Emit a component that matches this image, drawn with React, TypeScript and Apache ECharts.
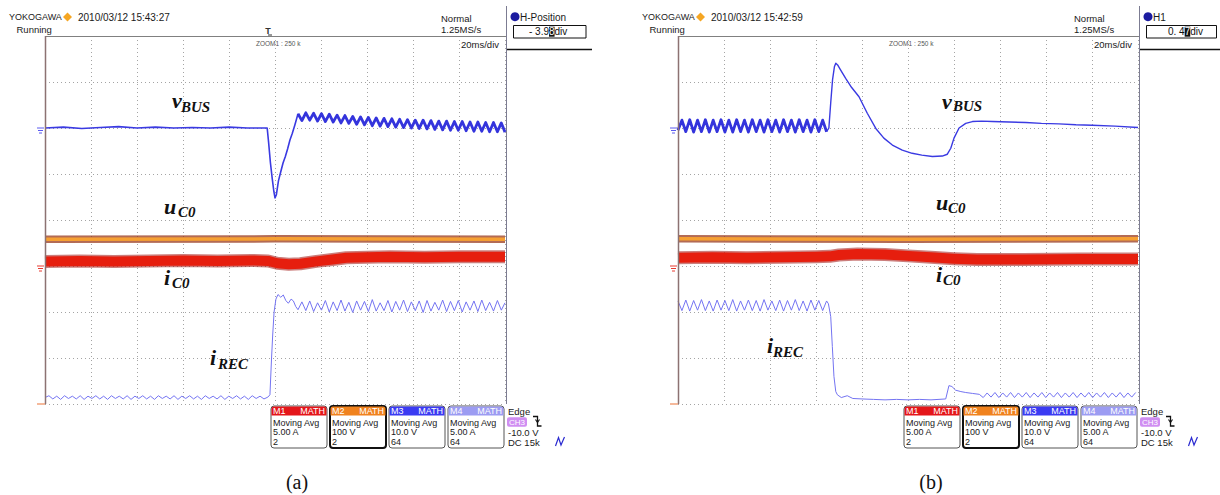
import React, { useEffect, useRef } from "react";
import * as echarts from "echarts";

// ---------- DATA (x: time in ms, 20 ms/div; y: screen divisions) ----------
const timeTicks = [0, 20, 40, 60, 80, 100, 120, 140, 160, 180, 200];
const divTicks = [-4, -3, -2, -1, 0, 1, 2, 3, 4];

// shared sample instants of the ~300 Hz ripple
const rippleTimes = [0, 1.7, 3.4, 5.1, 6.8, 8.5, 10.2, 11.9, 13.6, 15.3, 17.0, 18.7, 20.4, 22.1, 23.8, 25.5, 27.2, 28.9, 30.6, 32.3, 34.0, 35.7, 37.4, 39.1, 40.8, 42.5, 44.2, 45.9, 47.6, 49.3, 51.0, 52.7, 54.4, 56.1, 57.8, 59.5, 61.2, 62.9, 64.6, 66.3, 68.0, 69.7, 71.4, 73.1, 74.8, 76.5, 78.2, 79.9, 81.6, 83.3, 85.0, 86.7, 88.4, 90.1, 91.8, 93.5, 95.2];
const postTimesA = [110.0, 111.7, 113.4, 115.1, 116.8, 118.5, 120.2, 121.9, 123.6, 125.3, 127.0, 128.7, 130.4, 132.1, 133.8, 135.5, 137.2, 138.9, 140.6, 142.3, 144.0, 145.7, 147.4, 149.1, 150.8, 152.5, 154.2, 155.9, 157.6, 159.3, 161.0, 162.7, 164.4, 166.1, 167.8, 169.5, 171.2, 172.9, 174.6, 176.3, 178.0, 179.7, 181.4, 183.1, 184.8, 186.5, 188.2, 189.9, 191.6, 193.3, 195.0, 196.7, 198.4, 200.0];
const postTimesB = [131.0, 132.7, 134.4, 136.1, 137.8, 139.5, 141.2, 142.9, 144.6, 146.3, 148.0, 149.7, 151.4, 153.1, 154.8, 156.5, 158.2, 159.9, 161.6, 163.3, 165.0, 166.7, 168.4, 170.1, 171.8, 173.5, 175.2, 176.9, 178.6, 180.3, 182.0, 183.7, 185.4, 187.1, 188.8, 190.5, 192.2, 193.9, 195.6, 197.3, 199.0];

// ----- panel (a) -----
const vbusA_pre = [[0, 2.0], [8, 2.02], [16, 1.99], [24, 2.01], [32, 2.03], [40, 2.0], [48, 2.02], [56, 2.0], [64, 2.01], [72, 2.0], [80, 2.02], [88, 2.0], [96.6, 2.0],
  [97.2, 1.7], [98.0, 1.25], [98.8, 0.9], [99.5, 0.62], [100.0, 0.48], [100.6, 0.55], [101.5, 0.85], [102.5, 1.05], [103.5, 1.24], [104.5, 1.38], [105.5, 1.55], [106.5, 1.74], [107.5, 1.88], [108.6, 2.06], [109.4, 2.2], [110.0, 2.31]];
const vbusA_post = [2.31, 2.16, 2.33, 2.17, 2.32, 2.15, 2.31, 2.14, 2.30, 2.13, 2.28, 2.11, 2.27, 2.10, 2.25, 2.08, 2.24, 2.07, 2.23, 2.05, 2.22, 2.04, 2.21, 2.03, 2.20, 2.02, 2.19, 2.01, 2.18, 2.00, 2.17, 1.99, 2.17, 1.98, 2.16, 1.97, 2.15, 1.96, 2.15, 1.95, 2.14, 1.95, 2.14, 1.94, 2.13, 1.93, 2.13, 1.93, 2.12, 1.92, 2.12, 1.92, 2.11, 1.91];
const irecA_pre = [-3.86, -3.82, -3.89, -3.83, -3.9, -3.82, -3.88, -3.83, -3.89, -3.82, -3.9, -3.83, -3.88, -3.82, -3.89, -3.83, -3.9, -3.82, -3.88, -3.83, -3.89, -3.82, -3.9, -3.83, -3.88, -3.82, -3.89, -3.83, -3.9, -3.82, -3.88, -3.83, -3.89, -3.82, -3.9, -3.83, -3.88, -3.82, -3.89, -3.83, -3.9, -3.82, -3.88, -3.83, -3.89, -3.82, -3.9, -3.83, -3.88, -3.82, -3.89, -3.83, -3.9, -3.82, -3.88, -3.83, -3.89];
const irecA_rise = [[95.2, -3.89], [96.9, -3.85], [97.8, -3.8], [98.5, -3.0], [99.0, -2.5], [99.6, -2.0], [100.4, -1.72], [101.3, -1.62], [102.5, -1.68], [103.6, -1.63], [104.7, -1.75], [105.8, -1.81], [107.0, -1.72], [108.0, -1.76], [109.0, -1.88]];
const irecA_post = [-1.95, -1.78, -1.97, -1.76, -1.99, -1.8, -1.96, -1.75, -2.0, -1.78, -1.97, -1.74, -1.98, -1.79, -2.01, -1.76, -1.96, -1.77, -1.99, -1.73, -1.98, -1.8, -1.97, -1.75, -2.0, -1.77, -1.96, -1.74, -1.99, -1.78, -1.97, -1.76, -2.01, -1.75, -1.98, -1.79, -1.96, -1.74, -1.99, -1.77, -1.97, -1.75, -2.0, -1.78, -1.96, -1.76, -1.99, -1.74, -1.97, -1.79, -1.98, -1.75, -1.96, -1.8];
const icoA = [[0, -0.9], [15, -0.89], [30, -0.9], [45, -0.89], [60, -0.88], [75, -0.89], [90, -0.88], [97, -0.89], [101, -0.94], [106, -0.96], [111, -0.95], [118, -0.9], [125, -0.86], [131, -0.82], [140, -0.81], [150, -0.8], [165, -0.81], [180, -0.8], [200, -0.8]];
const ucoA = [[0, -0.42], [100, -0.41], [200, -0.42]];

// ----- panel (b) -----
const vbusB_pre = [1.95, 2.17, 1.92, 2.18, 1.91, 2.17, 1.92, 2.18, 1.91, 2.17, 1.92, 2.18, 1.91, 2.17, 1.91, 2.18, 1.92, 2.17, 1.91, 2.18, 1.92, 2.17, 1.91, 2.18, 1.92, 2.17, 1.91, 2.18, 1.92, 2.17, 1.91, 2.18, 1.92, 2.17, 1.91, 2.18, 1.92, 2.17, 1.92];
const vbusB_post = [[64.6, 1.92], [65.6, 2.0], [66.4, 2.55], [67.2, 3.05], [68.0, 3.33], [68.6, 3.41], [69.4, 3.37], [70.6, 3.27], [72.9, 3.08], [75.5, 2.88], [78.7, 2.68], [82.3, 2.32], [86.0, 1.99], [89.5, 1.78], [93.2, 1.63], [97.5, 1.52], [101.8, 1.45], [106, 1.41], [110.6, 1.38], [114.9, 1.39], [117.1, 1.43], [118.6, 1.56], [120.0, 1.78], [122.2, 2.0], [125.1, 2.1], [128.0, 2.14], [132, 2.15], [136.7, 2.14], [144, 2.13], [151.2, 2.12], [158, 2.1], [165.6, 2.09], [173, 2.07], [180.1, 2.06], [190, 2.04], [200, 2.01]];
const irecB_pre = [-1.76, -1.97, -1.74, -1.98, -1.75, -1.96, -1.73, -1.97, -1.76, -1.98, -1.74, -1.96, -1.75, -1.97, -1.73, -1.98, -1.76, -1.96, -1.74, -1.97, -1.75, -1.98, -1.73, -1.96, -1.76, -1.97, -1.74, -1.98, -1.75, -1.96, -1.73, -1.97, -1.76, -1.98, -1.74, -1.96, -1.75, -1.97, -1.76];
const irecB_mid = [[64.6, -1.76], [65.4, -1.82], [66.4, -2.1], [67.1, -2.75], [67.8, -3.4], [68.6, -3.73], [69.3, -3.8], [71, -3.86], [73.6, -3.82], [76, -3.88], [80, -3.89], [85, -3.9], [90, -3.91], [95, -3.9], [100, -3.91], [105, -3.9], [110, -3.91], [116.4, -3.89], [117.8, -3.6], [119.1, -3.62], [120.7, -3.7], [123, -3.73], [125.1, -3.75], [128, -3.77], [131.0, -3.79]];
const irecB_post = [-3.79, -3.86, -3.76, -3.85, -3.75, -3.86, -3.76, -3.85, -3.75, -3.86, -3.76, -3.85, -3.75, -3.86, -3.76, -3.85, -3.75, -3.86, -3.76, -3.85, -3.75, -3.86, -3.76, -3.85, -3.75, -3.86, -3.76, -3.85, -3.75, -3.86, -3.76, -3.85, -3.75, -3.86, -3.76, -3.85, -3.75, -3.86, -3.76, -3.85, -3.75];
const icoB = [[0, -0.82], [15, -0.81], [30, -0.82], [45, -0.81], [60, -0.8], [66, -0.79], [70, -0.76], [78, -0.74], [90, -0.75], [100, -0.78], [110, -0.81], [120, -0.84], [130, -0.86], [150, -0.86], [175, -0.85], [200, -0.85]];
const ucoB = [[0, -0.41], [100, -0.42], [200, -0.41]];

// ----- texts -----
const headerA = { date: "2010/03/12 15:43:27", hLabel: "H-Position", hPre: "- 3.9", hCur: "8", hPost: "div" };
const headerB = { date: "2010/03/12 15:42:59", hLabel: "H1", hPre: "0. 4", hCur: "7", hPost: "div" };
const mathBoxes = [
  { title: "M1", color: "#e4161a", lines: ["Moving Avg", "5.00 A", "2"] },
  { title: "M2", color: "#f0821e", lines: ["Moving Avg", "100 V", "2"] },
  { title: "M3", color: "#3b3bf2", lines: ["Moving Avg", "10.0 V", "64"] },
  { title: "M4", color: "#9c9cf2", lines: ["Moving Avg", "5.00 A", "64"] },
];
const triggerLines = ["Edge", "-10.0 V", "DC 15k"];

// ---------- helpers ----------
const SANS = "'Liberation Sans', Arial, sans-serif";
const SERIF = "'Liberation Serif', 'Times New Roman', serif";
const zip = (ts: number[], vs: number[]) => ts.map((t, i) => [t, vs[i]]);

const line = (data: any[], grid: number, color: string, width: number, z: number, opacity = 1) => ({
  type: "line", data, xAxisIndex: grid, yAxisIndex: grid, symbol: "none", silent: true, z, clip: true,
  lineStyle: { color, width, opacity, join: "round", cap: "butt" },
});

const txt = (x: number, y: number, text: string, fs: number, extra: any = {}) => ({
  type: "text", x, y, z: 100, silent: true,
  style: { text, fontSize: fs, fontFamily: SANS, fill: "#1a1a1a", align: "left", verticalAlign: "middle", ...extra },
});
const sym = (x: number, y: number, text: string, fs: number) => txt(x, y, text, fs, { fontFamily: SERIF, fontWeight: "bold", fontStyle: "italic", fill: "#111" });
const seg = (x1: number, y1: number, x2: number, y2: number, stroke: string, lineWidth = 1) => ({
  type: "line", z: 90, silent: true, shape: { x1, y1, x2, y2 }, style: { stroke, lineWidth },
});
const gnd = (x: number, y: number, color: string) => [
  seg(x, y, x + 7, y, color), seg(x + 1, y + 2.5, x + 6, y + 2.5, color), seg(x + 2, y + 5, x + 5, y + 5, color),
];

function panelGraphics(ox: number, h: typeof headerA, showT: boolean, hBoxW: number, hTextX: number, rightEnd: number) {
  const els: any[] = [];
  // header
  els.push(txt(9 + ox, 17, "YOKOGAWA", 9));
  els.push({ type: "polygon", z: 100, shape: { points: [[67.5 + ox, 12.5], [72 + ox, 17], [67.5 + ox, 21.5], [63 + ox, 17]] }, style: { fill: "#f5a623" } });
  els.push(txt(78 + ox, 17, h.date, 10));
  els.push(txt(16.5 + ox, 29.5, "Running", 9.5));
  els.push(txt(256 + ox, 43.5, "ZOOM1 : 250 k", 6.5, { fill: "#555" }));
  els.push(txt(441 + ox, 18.3, "Normal", 9.5));
  els.push(txt(441 + ox, 29.7, "1.25MS/s", 9.5));
  els.push(txt(461 + ox, 44, "20ms/div", 9.5));
  if (showT) {
    els.push(txt(268 + ox, 31, "T", 9, { align: "center", fontWeight: "bold", fill: "#333" }));
    els.push(seg(268 + ox, 35, 272 + ox, 35, "#333"));
  }
  // right panel
  els.push({ type: "circle", z: 100, shape: { cx: 515 + ox, cy: 16.7, r: 4.5 }, style: { fill: "#1c1ca0" } });
  els.push(txt(520 + ox, 17, h.hLabel, 10));
  els.push({ type: "rect", z: 95, shape: { x: 513.5 + ox, y: 25.5, width: hBoxW, height: 12.5 }, style: { fill: "#fff", stroke: "#111", lineWidth: 1 } });
  els.push(txt(hTextX + ox, 31.7, `{n|${h.hPre}}{c|${h.hCur}}{n|${h.hPost}}`, 10, {
    rich: { n: { fontSize: 10, fontFamily: SANS, fill: "#111" }, c: { fontSize: 10, fontFamily: SANS, fill: "#fff", backgroundColor: "#111" } },
  }));
  els.push(seg(506 + ox, 49.5, rightEnd, 49.5, "#111", 1.3));
  els.push(seg(506.5 + ox, 6, 506.5 + ox, 404, "#7c7c92", 1));
  // frame
  els.push(seg(45 + ox, 36.5, 506 + ox, 36.5, "#808080", 1));
  els.push(seg(45.5 + ox, 36, 45.5 + ox, 404, "#8c7272", 1.5));
  // ground markers
  els.push(...gnd(37 + ox, 128, "#5a5af0"));
  els.push(...gnd(37 + ox, 266, "#e83a30"));
  els.push(seg(37 + ox, 404, 45 + ox, 404, "#f2a27a", 1.5));
  // math boxes
  const bx = [271, 330, 389, 448];
  mathBoxes.forEach((b, i) => {
    const x = bx[i] + ox;
    const sel = i === 1;
    els.push({ type: "rect", z: 95, shape: { x, y: 406, width: 56, height: 42, r: 3 }, style: { fill: "#fff", stroke: sel ? "#111" : "#555", lineWidth: sel ? 2 : 1 } });
    els.push({ type: "rect", z: 96, shape: { x: x + 0.5, y: 406.5, width: 55, height: 9, r: [2.5, 2.5, 0, 0] }, style: { fill: b.color } });
    els.push(txt(x + 2, 411, b.title, 9, { fill: "#fff" }));
    els.push(txt(x + 54, 411, "MATH", 9, { fill: "#fff", align: "right" }));
    b.lines.forEach((l, k) => els.push(txt(x + 2, [422.5, 432, 442.3][k], l, 9)));
  });
  // trigger info
  els.push(txt(508 + ox, 411, triggerLines[0], 9.5));
  els.push({ type: "rect", z: 96, shape: { x: 507 + ox, y: 417.3, width: 20, height: 9.4, r: 2 }, style: { fill: "#d08ef2" } });
  els.push(txt(517 + ox, 422, "CH3", 8, { fill: "#fff", align: "center" }));
  els.push({ type: "polyline", z: 96, shape: { points: [[533 + ox, 416.5], [537.5 + ox, 416.5], [537.5 + ox, 426], [541.5 + ox, 426]] }, style: { stroke: "#111", lineWidth: 1.3, fill: null } });
  els.push({ type: "polyline", z: 96, shape: { points: [[535.5 + ox, 419.5], [537.5 + ox, 422.5], [539.5 + ox, 419.5]] }, style: { stroke: "#111", lineWidth: 1.1, fill: null } });
  els.push(txt(508 + ox, 432, triggerLines[1], 9.5));
  els.push(txt(508 + ox, 442.3, triggerLines[2], 9.5));
  els.push({ type: "polyline", z: 96, shape: { points: [[555.5 + ox, 446], [558.5 + ox, 437.5], [561 + ox, 445], [564.5 + ox, 437]] }, style: { stroke: "#2a2ad0", lineWidth: 1.2, fill: null } });
  return els;
}

const labelsA = [
  sym(172, 100.5, "v", 22), sym(181, 107, "BUS", 15),
  sym(164, 206.5, "u", 22), sym(178, 212, "C0", 15),
  sym(164, 277.5, "i", 22), sym(172, 283, "C0", 15),
  sym(210, 357.5, "i", 22), sym(218, 364, "REC", 15),
];
const labelsB = [
  sym(942, 101, "v", 22), sym(953, 106.4, "BUS", 15),
  sym(936, 202.5, "u", 22), sym(948, 208, "C0", 15),
  sym(936, 274.2, "i", 22), sym(943, 280, "C0", 15),
  sym(767, 345.5, "i", 22), sym(773, 351.6, "REC", 15),
];

const axisX = (gridIndex: number) => ({
  type: "value", gridIndex, min: 0, max: 200, interval: 20,
  axisLine: { show: false }, axisTick: { show: false }, axisLabel: { show: false },
  splitLine: { show: true, lineStyle: { type: [1, 3], color: "#a4a4a4", width: 1 } },
});
const axisY = (gridIndex: number) => ({
  type: "value", gridIndex, min: -4, max: 4, interval: 1,
  axisLine: { show: false }, axisTick: { show: false }, axisLabel: { show: false },
  splitLine: { show: true, lineStyle: { type: [1, 3], color: "#a4a4a4", width: 1 } },
});

export default function App() {
  const ref = useRef<HTMLDivElement>(null);
  useEffect(() => {
    const chart = echarts.init(ref.current!, null, { renderer: "svg" });
    void timeTicks; void divTicks;
    const option: any = {
      animation: false,
      backgroundColor: "#ffffff",
      grid: [
        { left: 45, top: 36, width: 460, height: 368 },
        { left: 678, top: 36, width: 460, height: 368 },
      ],
      xAxis: [axisX(0), axisX(1)],
      yAxis: [axisY(0), axisY(1)],
      series: [
        // panel (a)
        line(ucoA, 0, "#9a3a1c", 7.5, 2, 0.75),
        line(ucoA, 0, "#f6a032", 3.5, 3),
        line(icoA, 0, "#a01410", 13, 4, 0.55),
        line(icoA, 0, "#e61e0e", 10, 5),
        line(vbusA_pre, 0, "#3a3ae2", 1.6, 6),
        line(zip(postTimesA, vbusA_post), 0, "#3434dc", 2.8, 6),
        line(zip(rippleTimes, irecA_pre), 0, "#7474f2", 1, 7),
        line(irecA_rise, 0, "#7474f2", 1, 7),
        line([[109.0, -1.88], ...zip(postTimesA, irecA_post)], 0, "#7474f2", 1, 7),
        // panel (b)
        line(ucoB, 1, "#9a3a1c", 7.5, 2, 0.75),
        line(ucoB, 1, "#f6a032", 3.5, 3),
        line(icoB, 1, "#a01410", 13, 4, 0.55),
        line(icoB, 1, "#e61e0e", 10, 5),
        line(zip(rippleTimes.slice(0, 39), vbusB_pre), 1, "#3434dc", 2.8, 6),
        line(vbusB_post, 1, "#3a3ae2", 1.4, 6),
        line(zip(rippleTimes.slice(0, 39), irecB_pre), 1, "#7474f2", 1, 7),
        line(irecB_mid, 1, "#7474f2", 1, 7),
        line(zip(postTimesB, irecB_post), 1, "#7474f2", 1, 7),
      ],
      graphic: {
        elements: [
          ...panelGraphics(0, headerA, true, 72.5, 529, 592),
          ...panelGraphics(633, headerB, false, 70, 535, 1220),
          ...labelsA,
          ...labelsB,
          txt(297, 482, "(a)", 20, { fontFamily: SERIF, align: "center", fill: "#111" }),
          txt(931, 482, "(b)", 20, { fontFamily: SERIF, align: "center", fill: "#111" }),
        ],
      },
    };
    chart.setOption(option);
    return () => chart.dispose();
  }, []);
  return <div ref={ref} style={{ position: "absolute", left: 0, top: 0, width: 1220, height: 495, background: "#fff" }} />;
}
